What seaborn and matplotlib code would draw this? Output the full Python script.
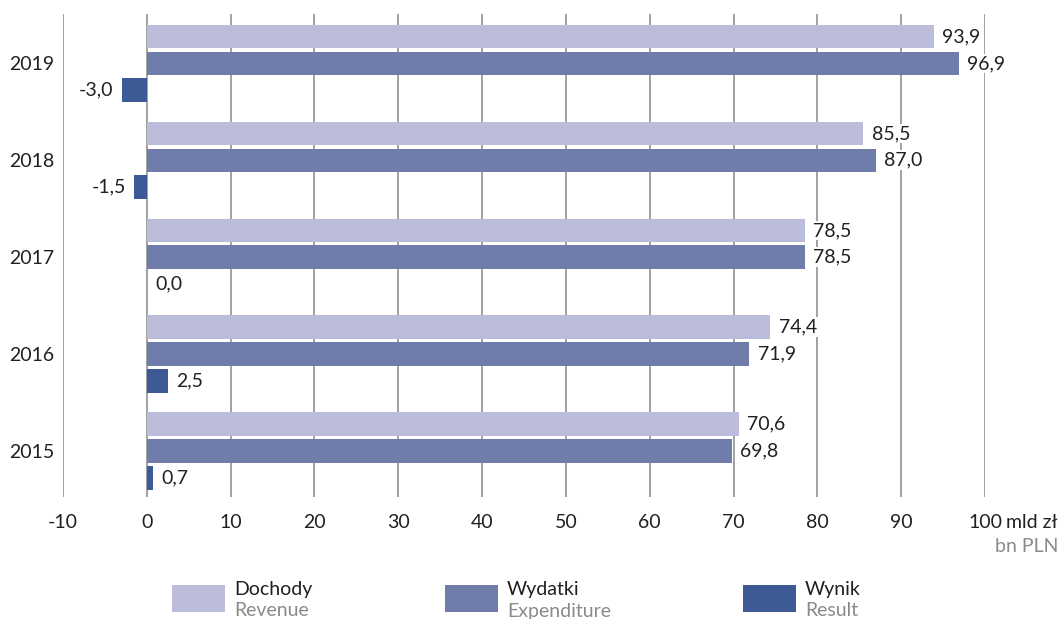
import matplotlib
matplotlib.use("Agg")
import matplotlib.pyplot as plt
import seaborn as sns
import pandas as pd
from matplotlib.patches import Rectangle

years = ["2019", "2018", "2017", "2016", "2015"]
dochody = [93.9, 85.5, 78.5, 74.4, 70.6]
wydatki = [96.9, 87.0, 78.5, 71.9, 69.8]
wynik = [-3.0, -1.5, 0.0, 2.5, 0.7]
series_pl = ["Dochody", "Wydatki", "Wynik"]
series_en = ["Revenue", "Expenditure", "Result"]
xticks = [-10, 0, 10, 20, 30, 40, 50, 60, 70, 80, 90, 100]
colors = ["#BBBCD9", "#707CAA", "#3E5A96"]

sns.set_theme(style="white")
plt.rcParams["font.family"] = ["Lato", "DejaVu Sans"]
TXT = "#231F20"
GRAY = "#8a8a8a"
FS = 14

df = pd.DataFrame({
    "year": years * 3,
    "value": dochody + wydatki + wynik,
    "series": [series_pl[0]] * 5 + [series_pl[1]] * 5 + [series_pl[2]] * 5,
})

W, H = 1064, 619
fig = plt.figure(figsize=(W / 100, H / 100), dpi=100)
ax = fig.add_axes([63 / W, (H - 497) / H, (985 - 63) / W, (497 - 14) / H])

sns.barplot(data=df, y="year", x="value", hue="series", order=years,
            hue_order=series_pl, palette=colors, orient="h", width=0.83,
            gap=0.12, saturation=1, legend=False, ax=ax, edgecolor="none")

ax.set_xlim(-10, 100)
ax.set_ylim(4.475, -0.51)
ax.set_xticks(xticks)
ax.set_xticklabels([str(t) for t in xticks])
ax.xaxis.grid(True, color="#9a9a9a", linewidth=1.3)
ax.set_axisbelow(True)
for s in ax.spines.values():
    s.set_visible(False)
ax.tick_params(axis="x", length=0, pad=12, labelsize=FS, labelcolor=TXT)
ax.tick_params(axis="y", length=0, pad=6, labelsize=FS, labelcolor=TXT)
ax.set_xlabel("")
ax.set_ylabel("")

vals = [dochody, wydatki, wynik]
for cont, v in zip(ax.containers, vals):
    labs = [f"{x:.1f}".replace(".", ",") for x in v]
    texts = ax.bar_label(cont, labels=labs, padding=6, fontsize=FS, color=TXT)
    for t in texts:
        t.set_bbox(dict(facecolor="white", edgecolor="none", pad=1))

ax.annotate("mld zł", xy=(100, 0), xycoords=("data", "axes fraction"),
            xytext=(15, -12), textcoords="offset points", ha="left",
            va="top", fontsize=FS, color=TXT, annotation_clip=False)
fig.text(1058 / W, 1 - 547 / H, "bn PLN", ha="right", va="center",
         fontsize=FS, color=GRAY)

# legend
leg_x = [172, 445, 743]
for lx, c, pl, en in zip(leg_x, colors, series_pl, series_en):
    fig.add_artist(Rectangle((lx / W, 1 - 612 / H), 53 / W, 27 / H,
                             transform=fig.transFigure, facecolor=c,
                             edgecolor="none"))
    fig.text((lx + 62) / W, 1 - 589 / H, pl, ha="left", va="center",
             fontsize=FS, color=TXT)
    fig.text((lx + 62) / W, 1 - 611 / H, en, ha="left", va="center",
             fontsize=FS, color=GRAY)

fig.savefig("out.png", dpi=100)
